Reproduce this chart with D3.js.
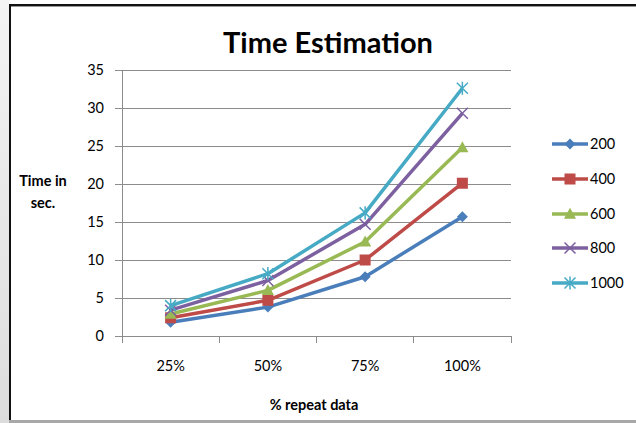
<!DOCTYPE html>
<html><head><meta charset="utf-8">
<script src="https://cdnjs.cloudflare.com/ajax/libs/d3/7.8.5/d3.min.js"></script>
<style>html,body{margin:0;padding:0;background:#fff;}svg{display:block;}</style>
</head><body>
<script>
const categories = ["25%", "50%", "75%", "100%"];
const seriesNames = ["200", "400", "600", "800", "1000"];
const s200 = [1.8, 3.8, 7.8, 15.7];
const s400 = [2.4, 4.7, 10.0, 20.1];
const s600 = [2.9, 6.0, 12.4, 24.8];
const s800 = [3.4, 7.3, 14.7, 29.3];
const s1000 = [4.0, 8.2, 16.2, 32.6];
const yTicks = [0, 5, 10, 15, 20, 25, 30, 35];
const colors = ["#4A7EBB", "#BE4B48", "#98B954", "#7D60A0", "#46AAC5"];
const markers = ["diamond", "square", "triangle", "x", "star"];
const allSeries = [s200, s400, s600, s800, s1000];

const W = 636, H = 423;
const svg = d3.select("body").append("svg").attr("width", W).attr("height", H);
const font = "Lato, 'Open Sans', sans-serif";
const fs = 14.5;

// background / frame
const grad = svg.append("defs").append("linearGradient").attr("id","lg").attr("x1","0").attr("x2","0").attr("y1","0").attr("y2","1");
grad.append("stop").attr("offset","0").attr("stop-color","#f4f4f4");
grad.append("stop").attr("offset","1").attr("stop-color","#dcdcdc");
svg.append("rect").attr("x",0).attr("y",0).attr("width",9).attr("height",H).attr("fill","url(#lg)");
svg.append("rect").attr("x",9).attr("y",4).attr("width",W-9).attr("height",416).attr("fill","#fff");
svg.append("rect").attr("x",9).attr("y",4).attr("width",W-9).attr("height",2).attr("fill","#111");
svg.append("rect").attr("x",9).attr("y",6).attr("width",W-9).attr("height",1).attr("fill","#999");
svg.append("rect").attr("x",9).attr("y",4).attr("width",2).attr("height",416).attr("fill","#111");
svg.append("rect").attr("x",9).attr("y",420).attr("width",W-9).attr("height",3).attr("fill","#a8a8a8");

const x0 = 122, x1 = 511, yTop = 70, yBot = 336;
const x = d3.scaleBand().domain(categories).range([x0, x1]);
const y = d3.scaleLinear().domain([0, 35]).range([yBot, yTop]);

// gridlines
svg.append("g").selectAll("line").data(yTicks.filter(d => d > 0)).join("line")
  .attr("x1", x0).attr("x2", x1).attr("y1", d => y(d)).attr("y2", d => y(d))
  .attr("stroke", "#8c8c8c").attr("stroke-width", 1).attr("shape-rendering","crispEdges");

// y axis
const yAxis = svg.append("g").attr("transform", `translate(${x0},0)`)
  .call(d3.axisLeft(y).tickValues(yTicks).tickSize(7).tickPadding(11));
yAxis.select(".domain").attr("stroke", "#8c8c8c").attr("shape-rendering","crispEdges");
yAxis.selectAll(".tick line").attr("stroke", "#8c8c8c").attr("shape-rendering","crispEdges");
yAxis.selectAll("text").attr("font-family", font).attr("font-size", fs).attr("fill", "#000");

// x axis
const xAxis = svg.append("g").attr("transform", `translate(0,${yBot})`)
  .call(d3.axisBottom(x).tickSize(0).tickPadding(25));
xAxis.select(".domain").attr("stroke", "#8c8c8c").attr("shape-rendering","crispEdges");
xAxis.selectAll("text").attr("font-family", font).attr("font-size", fs).attr("fill", "#000");
const xt = [x0, ...categories.map(c => x(c) + x.bandwidth())];
svg.append("g").selectAll("line").data(xt).join("line")
  .attr("x1", d => d).attr("x2", d => d).attr("y1", yBot).attr("y2", yBot + 7)
  .attr("stroke", "#8c8c8c").attr("shape-rendering","crispEdges");

// title & axis titles
svg.append("text").attr("x", 328).attr("y", 53).attr("text-anchor", "middle")
  .attr("font-family", font).attr("font-weight", "bold").attr("font-size", 29).text("Time Estimation");
svg.append("text").attr("x", 43).attr("y", 186).attr("text-anchor", "middle")
  .attr("font-family", font).attr("font-weight", "bold").attr("font-size", fs).text("Time in");
svg.append("text").attr("x", 43).attr("y", 208).attr("text-anchor", "middle")
  .attr("font-family", font).attr("font-weight", "bold").attr("font-size", fs).text("sec.");
svg.append("text").attr("x", 314).attr("y", 410).attr("text-anchor", "middle")
  .attr("font-family", font).attr("font-weight", "bold").attr("font-size", fs).text("% repeat data");

function drawMarker(g, type, cx, cy, color, s) {
  if (type === "diamond") {
    g.append("path").attr("d", `M${cx},${cy-s}L${cx+s},${cy}L${cx},${cy+s}L${cx-s},${cy}Z`).attr("fill", color);
  } else if (type === "square") {
    g.append("rect").attr("x", cx - s).attr("y", cy - s).attr("width", 2*s).attr("height", 2*s).attr("fill", color);
  } else if (type === "triangle") {
    g.append("path").attr("d", `M${cx},${cy-s*1.15}L${cx+s*1.1},${cy+s*0.85}L${cx-s*1.1},${cy+s*0.85}Z`).attr("fill", color);
  } else if (type === "x") {
    g.append("path").attr("d", `M${cx-s},${cy-s}L${cx+s},${cy+s}M${cx-s},${cy+s}L${cx+s},${cy-s}`)
      .attr("stroke", color).attr("stroke-width", 1.5);
  } else if (type === "star") {
    g.append("path").attr("d", `M${cx-s},${cy-s}L${cx+s},${cy+s}M${cx-s},${cy+s}L${cx+s},${cy-s}M${cx},${cy-s*1.2}L${cx},${cy+s*1.2}`)
      .attr("stroke", color).attr("stroke-width", 1.5);
  }
}

const line = d3.line().x((d, i) => x(categories[i]) + x.bandwidth()/2).y(d => y(d));
allSeries.forEach((vals, si) => {
  const g = svg.append("g");
  g.append("path").datum(vals).attr("d", line).attr("fill", "none")
    .attr("stroke", colors[si]).attr("stroke-width", 3.5).attr("stroke-linejoin", "round");
  vals.forEach((v, i) => {
    drawMarker(g, markers[si], x(categories[i]) + x.bandwidth()/2, y(v), colors[si], 5.5);
  });
});

// legend
const legY = [144, 179, 214, 248, 283];
seriesNames.forEach((n, si) => {
  const g = svg.append("g");
  const ly = legY[si];
  g.append("line").attr("x1", 552).attr("x2", 588).attr("y1", ly).attr("y2", ly)
    .attr("stroke", colors[si]).attr("stroke-width", 3.5);
  drawMarker(g, markers[si], 570, ly, colors[si], 5.5);
  g.append("text").attr("x", 590).attr("y", ly + 5).attr("font-family", font).attr("font-size", fs).text(n);
});
</script>
</body></html>
